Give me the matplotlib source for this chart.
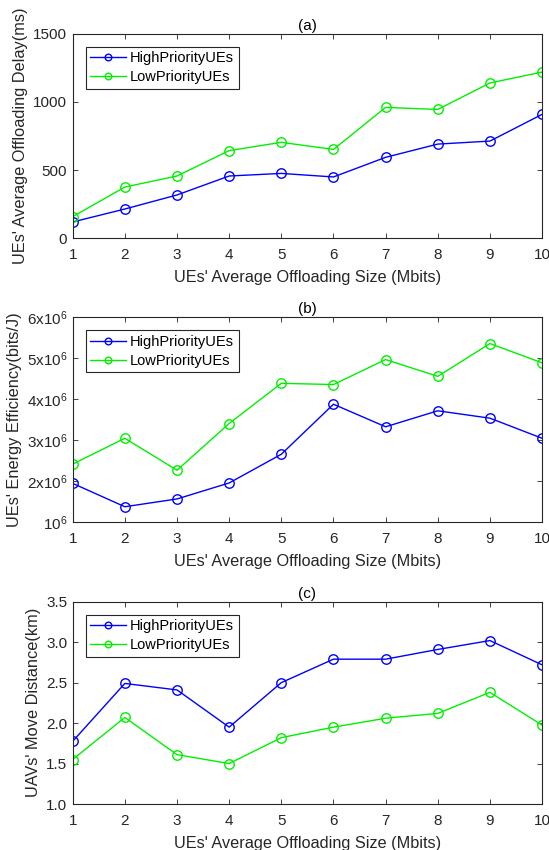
import matplotlib
matplotlib.use("Agg")
import matplotlib.pyplot as plt
from matplotlib.ticker import FixedLocator, FixedFormatter

plt.rcParams["font.family"] = ["Liberation Sans", "DejaVu Sans"]
plt.rcParams["mathtext.fontset"] = "custom"
plt.rcParams["mathtext.rm"] = "Liberation Sans"
plt.rcParams["mathtext.it"] = "Liberation Sans"

# ── Data ───────────────────────────────────────────────────────────────────────
sizes = [1, 2, 3, 4, 5, 6, 7, 8, 9, 10]

delay_high = [120, 215, 318, 457, 476, 450, 594, 691, 713, 909]
delay_low = [159, 376, 457, 643, 704, 652, 960, 945, 1139, 1219]

ee_high = [1.95e6, 1.38e6, 1.57e6, 1.96e6, 2.66e6, 3.88e6, 3.33e6, 3.72e6, 3.54e6, 3.05e6]
ee_low = [2.42e6, 3.05e6, 2.27e6, 3.41e6, 4.39e6, 4.36e6, 4.97e6, 4.56e6, 5.36e6, 4.89e6]

dist_high = [1.775, 2.49, 2.41, 1.95, 2.50, 2.79, 2.79, 2.91, 3.02, 2.72]
dist_low = [1.55, 2.07, 1.61, 1.50, 1.82, 1.95, 2.06, 2.12, 2.38, 1.975]

ee_ticks = [1e6, 2e6, 3e6, 4e6, 5e6, 6e6]
ee_ticklabels = [r"$10^6$"] + [rf"${k}\mathregular{{x}}10^6$" for k in range(2, 7)]

TXT = "#262626"
BLUE = "#0000ff"
GREEN = "#00f000"

# ── Figure ─────────────────────────────────────────────────────────────────────
fig = plt.figure(figsize=(5.49, 8.5), dpi=100)
boxes = [
    [0.1324, 0.7196, 0.855, 0.2407],
    [0.1324, 0.3855, 0.855, 0.2412],
    [0.1324, 0.0541, 0.855, 0.2380],
]

panels = [
    ("(a)", delay_high, delay_low, "UEs' Average Offloading Delay(ms)", (0, 1500)),
    ("(b)", ee_high, ee_low, "UEs' Energy Efficiency(bits/J)", (1e6, 6e6)),
    ("(c)", dist_high, dist_low, "UAVs' Move Distance(km)", (1.0, 3.5)),
]

for box, (title, hi, lo, ylabel, ylim) in zip(boxes, panels):
    ax = fig.add_axes(box)
    ax.plot(sizes, hi, "-o", color=BLUE, lw=1.0, ms=6.8, mfc="none", mew=1.0,
            label="HighPriorityUEs")
    ax.plot(sizes, lo, "-o", color=GREEN, lw=1.0, ms=6.8, mfc="none", mew=1.0,
            label="LowPriorityUEs")
    ax.set_xlim(1, 10)
    ax.set_ylim(*ylim)
    ax.set_xticks(sizes)
    ax.set_title(title, fontsize=11, color="black", pad=3)
    ax.set_xlabel("UEs' Average Offloading Size (Mbits)", fontsize=11.7, color=TXT,
                  labelpad=6)
    ax.set_ylabel(ylabel, fontsize=11.8, color=TXT, labelpad=3.5)
    ax.tick_params(direction="in", top=True, right=True, labelsize=11,
                   colors=TXT, length=3.6, width=0.6)
    ax.tick_params(axis="x", pad=7)
    ax.tick_params(axis="y", pad=4)
    for sp in ax.spines.values():
        sp.set_color(TXT)
        sp.set_linewidth(0.8)
    leg = ax.legend(loc="upper left", fontsize=10.5, fancybox=False,
                    edgecolor=TXT, framealpha=1, borderaxespad=0.88,
                    handlelength=2.47, handletextpad=0.27, borderpad=0.32,
                    labelspacing=0.33, markerscale=0.7)
    leg.get_frame().set_linewidth(0.8)
    if title == "(a)":
        ax.set_yticks([0, 500, 1000, 1500])
    elif title == "(b)":
        ax.yaxis.set_major_locator(FixedLocator(ee_ticks))
        ax.yaxis.set_major_formatter(FixedFormatter(ee_ticklabels))
    else:
        ax.set_yticks([1.0, 1.5, 2.0, 2.5, 3.0, 3.5])
        ax.set_yticklabels([f"{v:.1f}" for v in [1.0, 1.5, 2.0, 2.5, 3.0, 3.5]])

fig.savefig("out.png", dpi=100)
